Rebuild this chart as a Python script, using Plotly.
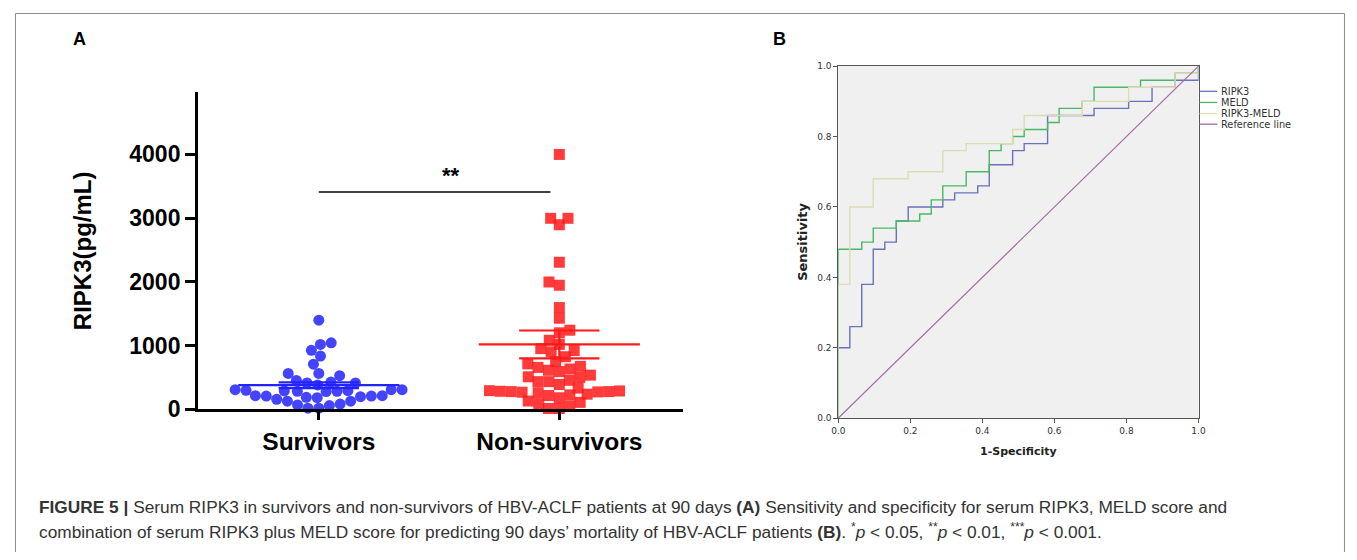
import plotly.graph_objects as go

PAGE_W, PAGE_H = 1357, 560
BODY = 8                      # default browser body margin
W, H = PAGE_W - 2 * BODY, PAGE_H - 2 * BODY

# ---------------- data ----------------
categories = ["Survivors", "Non-survivors"]
survivors = [1400, 1045, 1020, 928, 837, 710, 565, 530, 565,
             455, 415, 385, 415, 430,
             310, 300, 290, 285, 280, 285, 295, 310, 310,
             215, 210, 200, 185, 190, 210, 215,
             130, 85, 60, 20, 20, 70, 130, 160]
non_survivors = [4000, 2998, 2998, 2897, 2309, 1948, 1999, 1598, 1431,
                 1202, 1243, 1020, 1085, 924, 903, 954, 827, 751,
                 715, 659, 614, 538, 502, 512, 594, 634, 675,
                 457, 436, 436, 391, 335,
                 294, 285, 280, 275, 262, 239, 270, 280, 290,
                 228, 183, 218,
                 111, 56, 15, 15, 91, 132]
group_mean = [380, 1020]
group_sem = [45, 218]
sig_level = 3410
y_ticks = [0, 1000, 2000, 3000, 4000]

roc_ticks = [0.0, 0.2, 0.4, 0.6, 0.8, 1.0]
ripk3_fpr = [0, 0, 0.032, 0.065, 0.097, 0.129, 0.161, 0.194, 0.290, 0.323, 0.387,
             0.419, 0.484, 0.516, 0.581, 0.710, 0.806, 0.871, 0.935, 1.0]
ripk3_tpr = [0, 0.20, 0.26, 0.38, 0.48, 0.50, 0.56, 0.60, 0.62, 0.64, 0.66,
             0.72, 0.76, 0.78, 0.86, 0.88, 0.90, 0.94, 0.96, 1.0]
meld_fpr = [0, 0, 0.065, 0.097, 0.161, 0.226, 0.258, 0.290, 0.355, 0.419, 0.452,
            0.484, 0.516, 0.581, 0.613, 0.677, 0.710, 0.839, 0.935, 1.0]
meld_tpr = [0, 0.48, 0.50, 0.54, 0.56, 0.58, 0.62, 0.66, 0.70, 0.76, 0.78,
            0.80, 0.82, 0.84, 0.88, 0.90, 0.94, 0.96, 0.98, 1.0]
combo_fpr = [0, 0, 0.032, 0.097, 0.194, 0.290, 0.355, 0.484, 0.516, 0.677, 0.806, 0.935, 1.0]
combo_tpr = [0, 0.38, 0.60, 0.68, 0.70, 0.76, 0.78, 0.82, 0.86, 0.90, 0.94, 0.98, 1.0]
ref_line = [0, 1]
roc_names = ["RIPK3", "MELD", "RIPK3-MELD", "Reference line"]


# ---------------- geometry / style (page pixel positions) ----------------
def fx(x):
    return (x - BODY) / W


def fy(y):
    return 1 - (y - BODY) / H


A_left, A_right, A_top, A_bottom = 193, 683, 90, 418
A_xrange = [-0.502, 1.514]
A_yrange = [0, 4975]
B_left, B_right, B_top, B_bottom = 840, 1204, 63, 427

blue = "rgba(35,35,255,0.85)"
red = "rgba(255,25,25,0.85)"
roc_colors = ["#6a72bb", "#48b866", "#dcdcb4", "#a06aa0"]

sx = (A_right - A_left) / (A_xrange[1] - A_xrange[0])
sy = (A_bottom - A_top) / (A_yrange[1] - A_yrange[0])
DOT = 11.0


def swarm(values):
    placed = []
    xs = [0.0] * len(values)
    order = sorted(range(len(values)), key=lambda i: values[i])
    for i in order:
        y = values[i] * sy
        cands = [0.0]
        for (px, py) in placed:
            dy = abs(y - py)
            if dy < DOT:
                dx = (DOT * DOT - dy * dy) ** 0.5
                cands += [px + dx, px - dx]
        cands.sort(key=lambda c: (abs(c), c))
        chosen = cands[0]
        for c in cands:
            if all((c - px) ** 2 + (y - py) ** 2 >= DOT * DOT - 1e-6 for px, py in placed):
                chosen = c
                break
        placed.append((chosen, y))
        xs[i] = chosen / sx
    return xs


fig = go.Figure()

groups = [survivors, non_survivors]
colors = [blue, red]
symbols = ["circle", "square"]
for gi, vals in enumerate(groups):
    offs = swarm(vals)
    fig.add_trace(go.Scatter(
        x=[gi + o for o in offs], y=vals, mode="markers",
        marker=dict(symbol=symbols[gi], size=11, color=colors[gi], line=dict(width=0)),
        cliponaxis=False, xaxis="x", yaxis="y", showlegend=False, hoverinfo="y"))

mean_half = 0.335
sem_half = 0.167
for gi in range(2):
    c = colors[gi].replace("0.85", "1")
    m, s = group_mean[gi], group_sem[gi]
    fig.add_trace(go.Scatter(x=[gi - mean_half, gi + mean_half], y=[m, m], mode="lines",
                             line=dict(color=c, width=2.2), xaxis="x", yaxis="y",
                             showlegend=False, hoverinfo="skip"))
    for v in (m - s, m + s):
        fig.add_trace(go.Scatter(x=[gi - sem_half, gi + sem_half], y=[v, v], mode="lines",
                                 line=dict(color=c, width=2.2), xaxis="x", yaxis="y",
                                 showlegend=False, hoverinfo="skip"))
    fig.add_trace(go.Scatter(x=[gi, gi], y=[m - s, m + s], mode="lines",
                             line=dict(color=c, width=2.2), xaxis="x", yaxis="y",
                             showlegend=False, hoverinfo="skip"))

# significance bar
fig.add_trace(go.Scatter(x=[0, 0.963], y=[sig_level, sig_level], mode="lines",
                         line=dict(color="black", width=1.5), xaxis="x", yaxis="y",
                         showlegend=False, hoverinfo="skip"))

# ROC curves
roc_data = [(ripk3_fpr, ripk3_tpr), (meld_fpr, meld_tpr), (combo_fpr, combo_tpr)]
for k, (xs_, ys_) in enumerate(roc_data):
    fig.add_trace(go.Scatter(x=xs_, y=ys_, mode="lines", name=roc_names[k],
                             line=dict(shape="hv", color=roc_colors[k], width=1.4),
                             xaxis="x2", yaxis="y2", showlegend=False, cliponaxis=False))
fig.add_trace(go.Scatter(x=ref_line, y=ref_line, mode="lines", name=roc_names[3],
                         line=dict(color=roc_colors[3], width=1.2),
                         xaxis="x2", yaxis="y2", showlegend=False))

cat_font = dict(family="Arial, Liberation Sans", size=24.5, color="black", weight="bold")
num_font = dict(family="Arial, Liberation Sans", size=23, color="black", weight="bold")
small_font = dict(family="DejaVu Sans", size=9, color="#333333")

fig.update_layout(
    width=W, height=H, margin=dict(l=0, r=0, t=0, b=0),
    paper_bgcolor="white", plot_bgcolor="rgba(0,0,0,0)",
    xaxis=dict(domain=[fx(A_left), fx(A_right)], range=A_xrange,
               tickvals=[0, 1], ticktext=categories, tickfont=cat_font,
               showline=True, linecolor="black", linewidth=3,
               ticks="outside", ticklen=8, tickwidth=3, tickcolor="black",
               showgrid=False, zeroline=False, fixedrange=True),
    yaxis=dict(domain=[fy(A_bottom), fy(A_top)], range=A_yrange,
               tickvals=y_ticks, tickfont=num_font,
               showline=True, linecolor="black", linewidth=3,
               ticks="outside", ticklen=10, tickwidth=3, tickcolor="black",
               showgrid=False, zeroline=False, fixedrange=True),
    xaxis2=dict(domain=[fx(B_left), fx(B_right)], range=[0, 1], anchor="y2",
                tickvals=roc_ticks, tickformat=".1f", tickfont=small_font,
                showline=True, mirror=True, linecolor="#555555", linewidth=1,
                ticks="outside", ticklen=4, tickcolor="#555555",
                showgrid=False, zeroline=False),
    yaxis2=dict(domain=[fy(B_bottom), fy(B_top)], range=[0, 1], anchor="x2",
                tickvals=roc_ticks, tickformat=".1f", tickfont=small_font,
                showline=True, mirror=True, linecolor="#555555", linewidth=1,
                ticks="outside", ticklen=4, tickcolor="#555555",
                showgrid=False, zeroline=False),
)

shapes = [
    dict(type="rect", xref="x2 domain", yref="y2 domain", x0=0, x1=1, y0=0, y1=1,
         fillcolor="#f0f0f0", line=dict(width=0), layer="below"),
    dict(type="rect", xref="paper", yref="paper", x0=fx(8.5), x1=fx(1351.5),
         y0=fy(600), y1=fy(8.5), line=dict(color="#8c8c8c", width=1),
         fillcolor="rgba(0,0,0,0)", layer="below"),
]
legend_rows = [89, 100.5, 112, 123]
for k, yy in enumerate(legend_rows):
    shapes.append(dict(type="line", xref="paper", yref="paper",
                       x0=fx(1205), x1=fx(1223), y0=fy(yy), y1=fy(yy),
                       line=dict(color=roc_colors[k], width=1.3)))
fig.update_layout(shapes=shapes)

ann = []
for k, yy in enumerate(legend_rows):
    ann.append(dict(xref="paper", yref="paper", x=fx(1225), y=fy(yy),
                    xanchor="left", yanchor="middle", text=roc_names[k], showarrow=False,
                    font=dict(family="DejaVu Sans", size=9.8, color="#333333")))
ann += [
    dict(xref="paper", yref="paper", x=fx(77), y=fy(254), text="RIPK3(pg/mL)",
         textangle=-90, showarrow=False, xanchor="center", yanchor="middle",
         font=dict(family="Arial, Liberation Sans", size=24, color="black", weight="bold")),
    dict(xref="x", yref="y", x=0.55, y=sig_level, text="**", showarrow=False,
         xanchor="center", yanchor="bottom", yshift=2,
         font=dict(family="Arial, Liberation Sans", size=22, color="black", weight="bold")),
    dict(xref="paper", yref="paper", x=fx(73), y=fy(35), text="A", showarrow=False,
         xanchor="center", yanchor="middle",
         font=dict(family="Arial, Liberation Sans", size=18, color="black", weight="bold")),
    dict(xref="paper", yref="paper", x=fx(781), y=fy(35), text="B", showarrow=False,
         xanchor="center", yanchor="middle",
         font=dict(family="Arial, Liberation Sans", size=18, color="black", weight="bold")),
    dict(xref="paper", yref="paper", x=fx((B_left + B_right) / 2), y=fy(461),
         text="1-Specificity", showarrow=False, xanchor="center", yanchor="middle",
         font=dict(family="DejaVu Sans", size=11, color="#222222", weight="bold")),
    dict(xref="paper", yref="paper", x=fx(803), y=fy(245),
         text="Sensitivity", showarrow=False, textangle=-90, xanchor="center", yanchor="middle",
         font=dict(family="DejaVu Sans", size=13, color="#222222", weight="bold")),
    dict(xref="paper", yref="paper", x=fx(30), y=fy(519), xanchor="left", yanchor="middle",
         showarrow=False,
         text="<b>FIGURE 5 |</b> Serum RIPK3 in survivors and non-survivors of HBV-ACLF patients "
              "at 90 days <b>(A)</b> Sensitivity and specificity for serum RIPK3, MELD score and",
         font=dict(family="Arial, Liberation Sans", size=17.3, color="#333333")),
    dict(xref="paper", yref="paper", x=fx(30), y=fy(544), xanchor="left", yanchor="middle",
         showarrow=False,
         text="combination of serum RIPK3 plus MELD score for predicting 90 days\u2019 mortality of "
              "HBV-ACLF patients <b>(B)</b>. <sup>*</sup><i>p</i> &lt; 0.05, <sup>**</sup><i>p</i> "
              "&lt; 0.01, <sup>***</sup><i>p</i> &lt; 0.001.",
         font=dict(family="Arial, Liberation Sans", size=17.3, color="#333333")),
]
fig.update_layout(annotations=ann)

fig.write_html("out.html", config={"displayModeBar": False})
